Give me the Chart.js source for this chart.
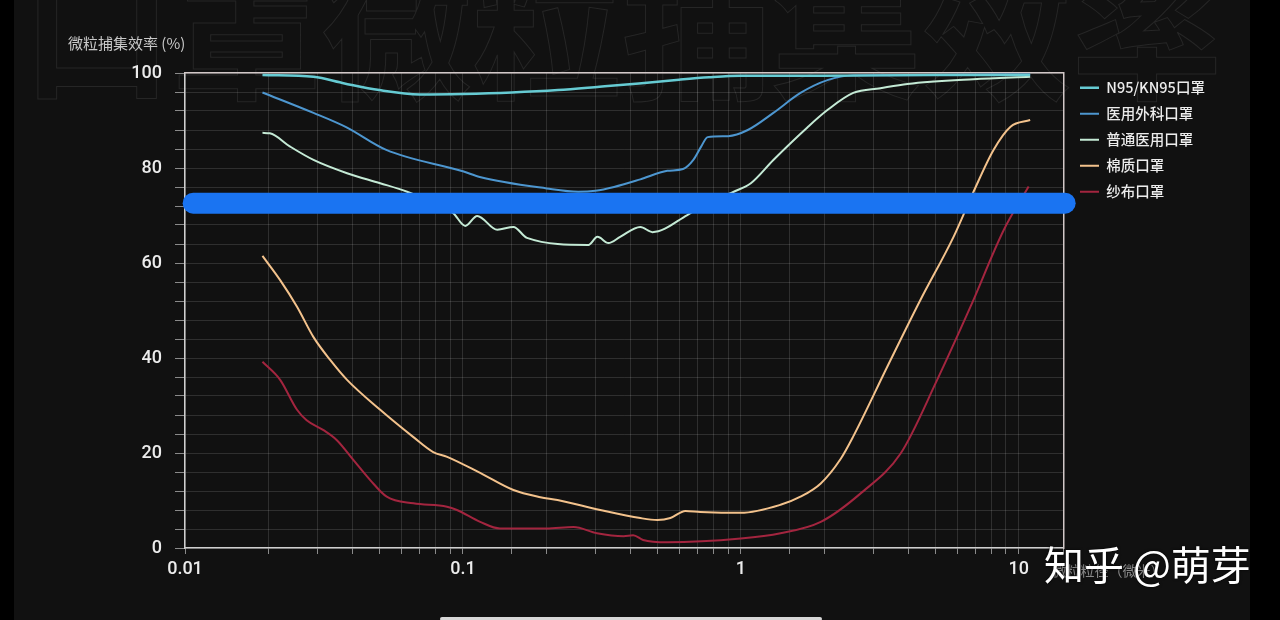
<!DOCTYPE html>
<html>
<head>
<meta charset="utf-8">
<title>口罩微粒捕集效率</title>
<script src="https://cdn.jsdelivr.net/npm/chart.js@4.4.0/dist/chart.umd.min.js"></script>
<style>
    html, body { margin: 0; padding: 0; background: #000; }
    #page { position: relative; width: 1280px; height: 620px; overflow: hidden; background: #000; }
    #panel { position: absolute; left: 14px; top: 0; width: 1236px; height: 620px; background: #111; }
    #bigTitle {
        position: absolute; left: 8px; top: -52px; white-space: nowrap;
        font: 700 150px/1 "Noto Sans CJK SC"; color: transparent;
        -webkit-text-stroke: 1px #262626;
    }
    #chartBox { position: absolute; left: 0; top: 0; width: 1280px; height: 620px; }
    #mark {
        position: absolute; left: 1044px; top: 543px; white-space: nowrap;
        font: 400 40px/1 "Noto Sans CJK SC"; color: #fff;
        text-shadow: 0 0 3px rgba(0, 0, 0, 0.8);
    }
    #homeBar { position: absolute; left: 440px; top: 617px; width: 382px; height: 4px; background: #d8d8d8; border-radius: 2px; }
</style>
</head>
<body>
<div id="page">
    <div id="panel"><div id="bigTitle">口罩微粒捕集效率</div></div>
    <div id="chartBox"><canvas id="myChart" width="1280" height="620"></canvas></div>
    <div id="mark">知乎 @萌芽</div>
    <div id="homeBar"></div>
</div>
<script>
// 입자 크기(μm) / 포집 효율(%) - 그림에서 읽은 값
var n95Size = [0.019, 0.029, 0.0375, 0.05, 0.07, 0.1, 0.15, 0.22, 0.31, 0.43, 0.6, 0.77, 1, 2, 5, 11];
var n95Eff = [99.6, 99.2, 97.8, 96.4, 95.5, 95.6, 95.9, 96.4, 97.1, 97.8, 98.6, 99.1, 99.4, 99.4, 99.6, 99.6];

var surgSize = [0.019, 0.029, 0.038, 0.053, 0.1, 0.115, 0.2, 0.26, 0.3, 0.35, 0.435, 0.544, 0.62, 0.675, 0.72, 0.76, 0.9, 1.06, 1.31, 1.64, 2.05, 2.54, 5, 11];
var surgEff = [95.9, 91.6, 88.6, 83.8, 79.3, 78.1, 75.7, 75.0, 75.2, 76.0, 77.6, 79.4, 79.8, 81.7, 84.5, 86.5, 86.7, 88.0, 91.6, 95.8, 98.5, 99.5, 99.6, 99.7];

var medSize = [0.019, 0.0202, 0.0239, 0.029, 0.0383, 0.0504, 0.063, 0.076, 0.0923, 0.102, 0.1126, 0.133, 0.152, 0.17, 0.283, 0.305, 0.334, 0.368, 0.435, 0.481, 0.642, 0.715, 0.944, 1.087, 1.31, 1.74, 2.05, 2.54, 3.18, 3.98, 6.88, 11];
var medEff = [87.4, 87.3, 84.5, 81.7, 78.9, 76.8, 75.0, 73.0, 70.5, 67.8, 69.9, 67.0, 67.6, 65.3, 63.8, 65.5, 64.2, 65.5, 67.6, 66.5, 70.1, 71.8, 75.0, 76.8, 81.7, 88.6, 92.2, 95.8, 96.8, 97.7, 98.7, 99.2];

var cottonSize = [0.019, 0.022, 0.0253, 0.029, 0.0333, 0.0383, 0.0504, 0.0662, 0.0782, 0.0878, 0.1154, 0.152, 0.19, 0.219, 0.312, 0.435, 0.501, 0.558, 0.632, 0.715, 1.0, 1.39, 1.64, 1.94, 2.29, 2.54, 3.37, 4.43, 5.83, 6.88, 8.12, 9.35, 11];
var cottonEff = [61.5, 56.4, 50.8, 44.4, 39.6, 35.4, 29.1, 23.4, 20.2, 19.2, 15.8, 12.2, 10.7, 10.1, 8.0, 6.3, 5.9, 6.3, 7.8, 7.6, 7.4, 9.1, 10.8, 13.6, 18.8, 23.5, 38.2, 52.2, 65.5, 75.0, 83.8, 88.7, 90.1];

var gauzeSize = [0.019, 0.022, 0.0253, 0.0274, 0.0315, 0.0352, 0.0404, 0.0464, 0.0532, 0.0664, 0.0876, 0.0952, 0.1154, 0.136, 0.2, 0.25, 0.304, 0.379, 0.41, 0.445, 0.543, 1.0, 1.39, 1.94, 2.7, 3.76, 5.09, 6.71, 8.83, 10.86];
var gauzeEff = [39.2, 35.4, 29.1, 26.9, 24.8, 22.7, 18.5, 14.3, 10.8, 9.4, 8.7, 8.0, 5.5, 4.1, 4.1, 4.4, 3.1, 2.5, 2.7, 1.7, 1.2, 2.0, 3.1, 5.5, 11.5, 19.9, 35.4, 50.8, 66.9, 76.1];

// 그림 위에 덧칠된 파란 막대
var barSize = [0.0107, 14.7];
var barEff = [72.6, 72.6];

var seriesNames = ["N95/KN95口罩", "医用外科口罩", "普通医用口罩", "棉质口罩", "纱布口罩"];
var seriesColors = ["#66cbd3", "#4d96cf", "#c4ead5", "#f3c28c", "#a3253f"];
var xTickLabels = [0.01, 0.1, 1, 10];
var yTickLabels = [0, 20, 40, 60, 80, 100];
var yTitle = "微粒捕集效率 (%)";
var xTitle = "微粒粒径（微米）";

function toPoints(xs, ys) {
    var pts = [];
    for (var i = 0; i < xs.length; i++) {
        pts.push({x: xs[i], y: ys[i]});
    }
    return pts;
}

function makeLine(i, xs, ys, width) {
    return {
        label: seriesNames[i],
        data: toPoints(xs, ys),
        borderColor: seriesColors[i],
        backgroundColor: seriesColors[i],
        borderWidth: width,
        pointRadius: 0,
        cubicInterpolationMode: "monotone",
        fill: false
    };
}

// 범례 폭을 미리 재서 오른쪽 여백 계산
var legendFont = 14.5;
var legendPad = 11.5;
var legendLine = 19;
var mctx = document.createElement("canvas").getContext("2d");
mctx.font = "500 " + legendFont + 'px "Noto Sans CJK SC"';
var maxTextW = 0;
seriesNames.forEach(function(name) {
    maxTextW = Math.max(maxTextW, mctx.measureText(name).width);
});
var legendW = legendPad + legendLine + legendFont / 2 + maxTextW + 10;
var padRight = 1280 - 1068.5 - legendW;

var axisTextPlugin = {
    id: "axisText",
    afterDraw: function(chart) {
        var ctx = chart.ctx;
        var area = chart.chartArea;
        ctx.save();
        ctx.font = '15px "Noto Sans CJK SC"';
        ctx.textBaseline = "middle";
        ctx.textAlign = "left";
        ctx.fillStyle = "#c8c8c8";
        ctx.fillText(yTitle, area.left - 117, area.top - 30);
        ctx.font = '14px "Noto Sans CJK SC"';
        ctx.fillStyle = "#8a8a8a";
        ctx.fillText(xTitle, area.right - 11, area.bottom + 23);
        ctx.restore();
    }
};

var gridColor = "rgba(255,255,255,0.13)";
var tickColor = "#8a8a8a";
var borderColor = "#cfcfcf";
var tickFont = {family: "Roboto", size: 18, weight: "500"};

var datasets = [
    makeLine(0, n95Size, n95Eff, 2.5),
    makeLine(1, surgSize, surgEff, 2),
    makeLine(2, medSize, medEff, 2),
    makeLine(3, cottonSize, cottonEff, 2),
    makeLine(4, gauzeSize, gauzeEff, 2)
];
datasets.push({
    label: "bar",
    data: toPoints(barSize, barEff),
    borderColor: "#1a74f2",
    borderWidth: 21,
    borderCapStyle: "round",
    pointRadius: 0,
    clip: false,
    order: -1
});

var ctx = document.getElementById("myChart").getContext("2d");
var myChart = new Chart(ctx, {
    type: "line",
    data: {datasets: datasets},
    plugins: [axisTextPlugin],
    options: {
        responsive: false,
        animation: false,
        layout: {padding: {left: 0, top: 69, right: padRight, bottom: 0}},
        plugins: {
            tooltip: {enabled: false},
            legend: {
                position: "right",
                align: "start",
                labels: {
                    usePointStyle: true,
                    pointStyle: "line",
                    pointStyleWidth: legendLine,
                    padding: legendPad,
                    color: "#ececec",
                    font: {family: "Noto Sans CJK SC", size: legendFont, weight: "500"},
                    filter: function(item) {
                        return item.datasetIndex < 5;
                    }
                }
            }
        },
        scales: {
            x: {
                type: "logarithmic",
                position: "bottom",
                min: 0.01,
                max: 14.5,
                afterFit: function(axis) { axis.height = 72; },
                grid: {color: gridColor, tickColor: tickColor, tickLength: 6},
                border: {color: borderColor, width: 1.5},
                ticks: {
                    autoSkip: false,
                    maxRotation: 0,
                    padding: 5,
                    color: "#ececec",
                    font: tickFont,
                    callback: function(value) {
                        for (var i = 0; i < xTickLabels.length; i++) {
                            if (Math.abs(value - xTickLabels[i]) < xTickLabels[i] * 1e-6) {
                                return String(xTickLabels[i]);
                            }
                        }
                        return "";
                    }
                }
            },
            y: {
                type: "linear",
                position: "left",
                min: 0,
                max: 100,
                afterFit: function(axis) { axis.width = 185; },
                grid: {color: gridColor, tickColor: tickColor, tickLength: 10},
                border: {color: borderColor, width: 1.5},
                ticks: {
                    stepSize: 4,
                    autoSkip: false,
                    padding: 13,
                    color: "#ececec",
                    font: tickFont,
                    callback: function(value) {
                        return yTickLabels.indexOf(value) >= 0 ? value : "";
                    }
                }
            },
            x2: {
                type: "linear",
                position: "top",
                afterFit: function(axis) { axis.height = 4; },
                grid: {display: false},
                ticks: {display: false},
                border: {color: "#d2c8c8", width: 1.5}
            },
            y2: {
                type: "linear",
                position: "right",
                afterFit: function(axis) { axis.width = 5; },
                grid: {display: false},
                ticks: {display: false},
                border: {color: "#d2c8c8", width: 1.5}
            }
        }
    }
});
</script>
</body>
</html>
